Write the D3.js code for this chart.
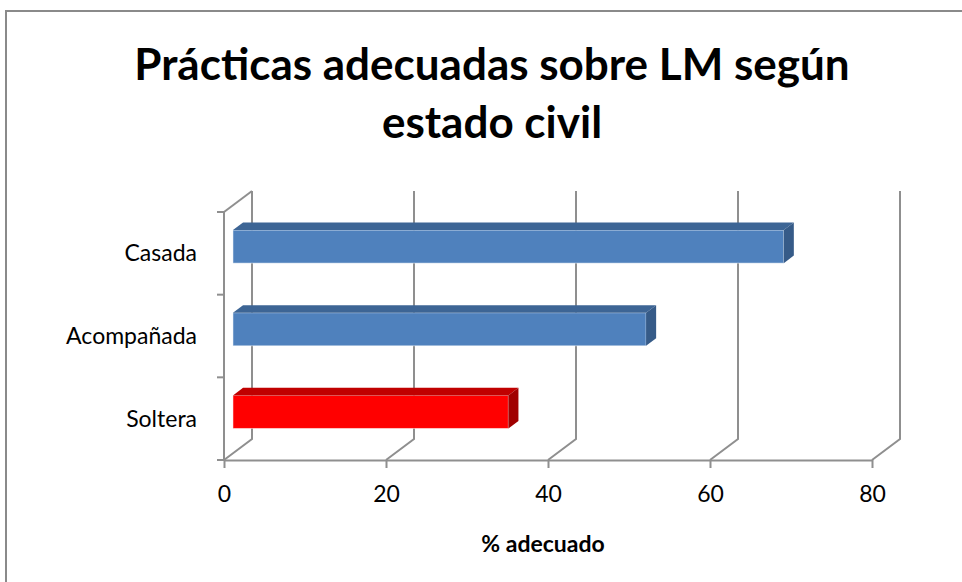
<!DOCTYPE html>
<html>
<head>
<meta charset="utf-8">
<script src="https://cdnjs.cloudflare.com/ajax/libs/d3/7.8.5/d3.min.js"></script>
<style>
  body { margin: 0; background: #fff; }
  svg { display: block; font-family: Lato, "Open Sans", sans-serif; }
  .grid line, .grid path { stroke: #8f8f8f; stroke-width: 2; fill: none; }
  .label { font-size: 23px; fill: #000; }
  .title { font-size: 44px; font-weight: bold; fill: #000; }
  .axis-title { font-size: 23px; font-weight: bold; fill: #000; }
</style>
</head>
<body>
<div id="container"></div>
<script>
const categories = ["Casada", "Acompañada", "Soltera"];
const values = [68, 51, 34];
const barColors = ["blue", "blue", "red"];
const xTicks = [0, 20, 40, 60, 80];
const titleLines = ["Prácticas adecuadas sobre LM según", "estado civil"];
const xTitle = "% adecuado";

const palette = {
    blue: { front: "#4f81bd", top: "#3d6595", side: "#365b88" },
    red:  { front: "#ff0000", top: "#c00000", side: "#a00000" }
};

const width = 962, height = 582;
// front plane of the plot
const plotLeft = 224, plotRight = 872, plotTop = 212, plotBottom = 460;
// depth of the floor (towards the back wall)
const depthX = 28, depthY = -21;
// bars sit between these depth fractions
const barFront = 0.32, barBack = 0.68;

const svg = d3.select('#container').append('svg')
    .attr('width', width)
    .attr('height', height);

// chart area border
svg.append('rect')
    .attr('x', 6)
    .attr('y', 11)
    .attr('width', 1000)
    .attr('height', 1000)
    .attr('fill', 'none')
    .attr('stroke', '#8a8a8a')
    .attr('stroke-width', 2);

const xScale = d3.scaleLinear()
    .domain([0, 80])
    .range([plotLeft, plotRight]);

const yScale = d3.scaleBand()
    .domain(categories)
    .range([plotTop, plotBottom])
    .paddingInner(0.6)
    .paddingOuter(0.3);

const grid = svg.append('g').attr('class', 'grid');

// back wall verticals + floor diagonals
xTicks.forEach(t => {
    const x = xScale(t);
    grid.append('path')
        .attr('d', `M${x},${plotBottom} L${x + depthX},${plotBottom + depthY} L${x + depthX},${plotTop + depthY}`);
});
// left wall top edge
grid.append('line')
    .attr('x1', plotLeft).attr('y1', plotTop)
    .attr('x2', plotLeft + depthX).attr('y2', plotTop + depthY);

// bars
const bars = svg.append('g')
    .selectAll('g')
    .data(categories.map((c, i) => ({ cat: c, value: values[i], color: palette[barColors[i]] })))
    .enter()
    .append('g');

const fx = depthX * barFront, fy = depthY * barFront;
const dx = depthX * (barBack - barFront), dy = depthY * (barBack - barFront);

bars.append('rect')
    .attr('x', d => xScale(0) + fx)
    .attr('y', d => yScale(d.cat) + fy)
    .attr('width', d => xScale(d.value) - xScale(0))
    .attr('height', yScale.bandwidth())
    .attr('fill', d => d.color.front)
    .attr('stroke', 'rgba(255,255,255,0.5)')
    .attr('stroke-width', 1);

bars.append('polygon')
    .attr('points', d => {
        const x0 = xScale(0) + fx, x1 = xScale(d.value) + fx, y0 = yScale(d.cat) + fy;
        return [[x0, y0], [x1, y0], [x1 + dx, y0 + dy], [x0 + dx, y0 + dy]].join(' ');
    })
    .attr('fill', d => d.color.top);

bars.append('polygon')
    .attr('points', d => {
        const x1 = xScale(d.value) + fx, y0 = yScale(d.cat) + fy, y1 = y0 + yScale.bandwidth();
        return [[x1, y0], [x1 + dx, y0 + dy], [x1 + dx, y1 + dy], [x1, y1]].join(' ');
    })
    .attr('fill', d => d.color.side);

// front axes
const xAxis = svg.append('g')
    .attr('class', 'grid')
    .attr('transform', `translate(0, ${plotBottom})`)
    .call(d3.axisBottom(xScale).tickValues(xTicks).tickSize(8).tickSizeOuter(0).tickPadding(18));
xAxis.attr('font-family', null).attr('font-size', null);
xAxis.selectAll('text')
    .attr('class', 'label');

// category axis: ticks at band edges, labels in band middles
const edges = categories.map(c => yScale(c) - yScale.step() * 0.3).concat([plotBottom]);
const yAxis = svg.append('g').attr('class', 'grid');
yAxis.append('line')
    .attr('x1', plotLeft).attr('y1', plotTop)
    .attr('x2', plotLeft).attr('y2', plotBottom);
yAxis.selectAll('.tick')
    .data(edges)
    .enter()
    .append('line')
    .attr('x1', plotLeft - 7).attr('x2', plotLeft)
    .attr('y1', d => d).attr('y2', d => d);

svg.append('g')
    .selectAll('text')
    .data(categories)
    .enter()
    .append('text')
    .attr('class', 'label')
    .attr('x', 197)
    .attr('y', d => yScale(d) + yScale.bandwidth() / 2)
    .attr('dy', '0.35em')
    .attr('text-anchor', 'end')
    .text(d => d);

// titles
svg.append('g')
    .selectAll('text')
    .data(titleLines)
    .enter()
    .append('text')
    .attr('class', 'title')
    .attr('x', 492)
    .attr('y', (d, i) => 80 + i * 58)
    .attr('text-anchor', 'middle')
    .text(d => d);

svg.append('text')
    .attr('class', 'axis-title')
    .attr('x', 543)
    .attr('y', 552)
    .attr('text-anchor', 'middle')
    .text(xTitle);
</script>
</body>
</html>
